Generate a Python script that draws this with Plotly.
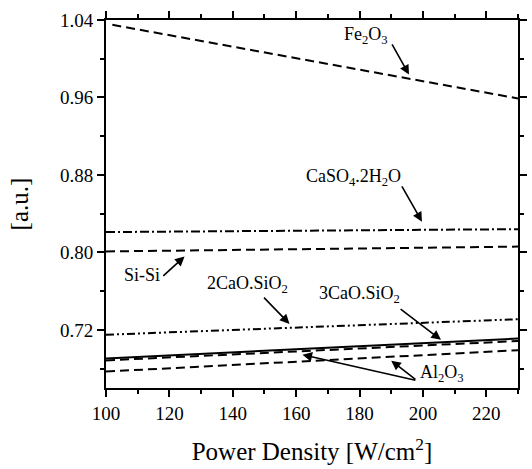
import plotly.graph_objects as go

# Data
power_x = [100, 230]
fe2o3_x = [102, 230]
fe2o3_y = [1.035, 0.959]
caso4_y = [0.821, 0.824]
sisi_y = [0.801, 0.806]
c2s_y = [0.715, 0.731]
c3s_y = [0.6905, 0.711]
al2o3_a_y = [0.6885, 0.7085]
al2o3_b_y = [0.677, 0.699]

FONT = "Liberation Serif"
fig = go.Figure()

def add(x, y, dash, name):
    fig.add_trace(go.Scatter(x=x, y=y, mode="lines", name=name,
                             line=dict(color="black", width=2, dash=dash)))

add(fe2o3_x, fe2o3_y, "9px,5px", "Fe2O3")
add(power_x, caso4_y, "9px,3px,2px,3px", "CaSO4.2H2O")
add(power_x, sisi_y, "9px,5px", "Si-Si")
add(power_x, c2s_y, "8px,3px,2px,3px,2px,3px", "2CaO.SiO2")
add(power_x, c3s_y, "solid", "3CaO.SiO2")
add(power_x, al2o3_a_y, "9px,5px", "Al2O3 a")
add(power_x, al2o3_b_y, "9px,5px", "Al2O3 b")

# labels
labels = [
    ("Fe<sub>2</sub>O<sub>3</sub>", 182.0, 1.024),
    ("CaSO<sub>4</sub>.2H<sub>2</sub>O", 178, 0.8775),
    ("Si-Si", 111.5, 0.777),
    ("2CaO.SiO<sub>2</sub>", 144.5, 0.7665),
    ("3CaO.SiO<sub>2</sub>", 180, 0.757),
    ("Al<sub>2</sub>O<sub>3</sub>", 206, 0.675),
]
for t, x, y in labels:
    fig.add_annotation(x=x, y=y, text=t, showarrow=False,
                       font=dict(family=FONT, size=18, color="black"))

arrows = [
    (190, 1.0164, 195.6, 0.9836),
    (193.1, 0.8697, 199.7, 0.8318),
    (117.6, 0.7744, 124.8, 0.7959),
    (149.4, 0.7549, 157.9, 0.7262),
    (192.5, 0.7426, 205.7, 0.7097),
    (198.1, 0.6677, 162.0, 0.6944),
    (198.1, 0.6677, 190.0, 0.6882),
]
for ax_, ay_, x, y in arrows:
    fig.add_annotation(x=x, y=y, ax=ax_, ay=ay_, axref="x", ayref="y",
                       xref="x", yref="y", text="", showarrow=True,
                       arrowhead=2, arrowsize=1.2, arrowwidth=1.6,
                       arrowcolor="black")

axis_common = dict(showline=True, linecolor="black", linewidth=2,
                   mirror="allticks", ticks="outside", ticklen=7,
                   tickwidth=2, tickcolor="black", showgrid=False,
                   zeroline=False, automargin=False,
                   tickfont=dict(family=FONT, size=19, color="black"))

fig.update_xaxes(range=[100, 230], tickvals=[100, 120, 140, 160, 180, 200, 220],
                 minor=dict(ticks="outside", ticklen=4, tickwidth=2,
                            tickcolor="black", dtick=10, tick0=100, showgrid=False),
                 title=dict(text="Power Density [W/cm<sup>2</sup>]",
                            font=dict(family=FONT, size=25, color="black"),
                            standoff=20),
                 **axis_common)
fig.update_yaxes(range=[0.66, 1.04], tickvals=[0.72, 0.80, 0.88, 0.96, 1.04],
                 ticktext=["0.72", "0.80", "0.88", "0.96", "1.04"],
                 minor=dict(ticks="outside", ticklen=4, tickwidth=2,
                            tickcolor="black", dtick=0.04, tick0=0.68, showgrid=False),
                 title=dict(text="[a.u.]",
                            font=dict(family=FONT, size=25, color="black"),
                            standoff=24),
                 **axis_common)

fig.update_layout(width=532, height=469, showlegend=False,
                  font=dict(family=FONT, color="black"),
                  plot_bgcolor="white", paper_bgcolor="white",
                  margin=dict(l=106, r=14, t=20, b=81))

fig.write_html("out.html", config={"displayModeBar": False},
               post_script="document.body.style.margin='0';document.body.style.overflow='hidden';")
